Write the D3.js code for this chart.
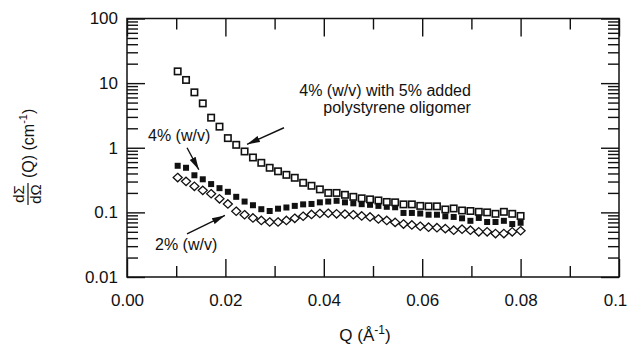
<!DOCTYPE html>
<html><head><meta charset="utf-8">
<script src="https://cdn.jsdelivr.net/npm/d3@7"></script>
<style>
body{margin:0;background:#fff}
text{font-family:"Liberation Sans",Arial,Helvetica,sans-serif;fill:#111}
</style>
</head><body><svg id="c" width="628" height="345"></svg>
<script>
// ---- data ----
const q = [0.0103,0.0120,0.0137,0.0154,0.0171,0.0188,0.0205,0.0222,0.0239,0.0256,0.0273,0.0290,0.0307,0.0324,0.0341,0.0358,0.0375,0.0392,0.0409,0.0426,0.0443,0.0460,0.0477,0.0494,0.0511,0.0528,0.0545,0.0562,0.0579,0.0596,0.0613,0.0630,0.0647,0.0664,0.0681,0.0698,0.0715,0.0732,0.0749,0.0766,0.0783,0.0800];
const oligomer = [15.2,11.2,7.2,4.86,2.92,2.12,1.41,1.11,0.876,0.707,0.585,0.49,0.432,0.381,0.343,0.287,0.258,0.227,0.2,0.2,0.187,0.174,0.165,0.159,0.153,0.145,0.143,0.133,0.133,0.126,0.124,0.124,0.111,0.115,0.107,0.105,0.102,0.1,0.095,0.102,0.095,0.088];
const pct4 = [0.526,0.49,0.375,0.325,0.274,0.237,0.208,0.174,0.147,0.129,0.112,0.105,0.114,0.119,0.126,0.133,0.135,0.143,0.147,0.151,0.143,0.138,0.134,0.131,0.126,0.122,0.12,0.098,0.098,0.096,0.092,0.092,0.087,0.085,0.081,0.074,0.082,0.071,0.071,0.074,0.066,0.069];
const pct2 = [0.346,0.302,0.253,0.219,0.194,0.162,0.135,0.104,0.092,0.082,0.075,0.071,0.071,0.075,0.081,0.087,0.093,0.096,0.097,0.095,0.094,0.092,0.088,0.085,0.079,0.075,0.07,0.066,0.064,0.061,0.059,0.058,0.056,0.053,0.055,0.053,0.05,0.05,0.047,0.047,0.05,0.052];
const xMajorTicks = [0,0.02,0.04,0.06,0.08,0.1];
const xTickLabels = ["0.00","0.02","0.04","0.06","0.08","0.1"];
const xMinorTicks = [0.01,0.03,0.05,0.07,0.09];
const yMajorTicks = [0.01,0.1,1,10,100];
const yTickLabels = ["0.01","0.1","1","10","100"];
const annotations = [
  {lines:["4% (w/v) with 5% added","polystyrene oligomer"], q:0.0699, v:6.4, anchor:"end"},
  {lines:["4% (w/v)"], q:0.00427, v:1.28, anchor:"start"},
  {lines:["2% (w/v)"], q:0.0057, v:0.0262, anchor:"start"}
];
const arrows = [
  {from:[0.0319,2.04], to:[0.0244,1.13]},
  {from:[0.0122,1.0], to:[0.0146,0.456]},
  {from:[0.0122,0.0464], to:[0.0199,0.0898]}
];

// ---- layout ----
const L=127, R=619, T=18.5, B=277;
const svg = d3.select("#c");
const x = d3.scaleLinear().domain([0,0.1]).range([L,R]);
const y = d3.scaleLog().domain([0.01,100]).range([B,T]);
const ink = "#111";

const yMinor = [];
[0.01,0.1,1,10].forEach(d=>{for(let k=2;k<=9;k++) yMinor.push(d*k);});

function styleAxis(g){
  g.select(".domain").remove();
  g.selectAll(".tick line").attr("stroke",ink).attr("stroke-width",1.4);
  g.selectAll(".tick text").style("font-size","17px").attr("fill",ink);
}
// bottom
const bx = svg.append("g").attr("transform",`translate(0,${B})`)
  .call(d3.axisBottom(x).tickValues(xMajorTicks).tickSize(-18).tickPadding(17)
    .tickFormat((d,i)=>xTickLabels[i])).call(styleAxis);
bx.selectAll(".tick text").filter(d=>d===0.1).attr("dx",-4);
svg.append("g").attr("transform",`translate(0,${B})`)
  .call(d3.axisBottom(x).tickValues(xMinorTicks).tickSize(-11).tickFormat("")).call(styleAxis);
// top
svg.append("g").attr("transform",`translate(0,${T})`)
  .call(d3.axisTop(x).tickValues(xMajorTicks).tickSize(-18).tickFormat("")).call(styleAxis);
svg.append("g").attr("transform",`translate(0,${T})`)
  .call(d3.axisTop(x).tickValues(xMinorTicks).tickSize(-11).tickFormat("")).call(styleAxis);
// left
svg.append("g").attr("transform",`translate(${L},0)`)
  .call(d3.axisLeft(y).tickValues(yMajorTicks).tickSize(-18).tickPadding(9)
    .tickFormat((d,i)=>yTickLabels[i])).call(styleAxis);
svg.append("g").attr("transform",`translate(${L},0)`)
  .call(d3.axisLeft(y).tickValues(yMinor).tickSize(-11).tickFormat("")).call(styleAxis);
// right
svg.append("g").attr("transform",`translate(${R},0)`)
  .call(d3.axisRight(y).tickValues(yMajorTicks).tickSize(-18).tickFormat("")).call(styleAxis);
svg.append("g").attr("transform",`translate(${R},0)`)
  .call(d3.axisRight(y).tickValues(yMinor).tickSize(-11).tickFormat("")).call(styleAxis);

// frame
svg.append("rect").attr("x",L).attr("y",T).attr("width",R-L).attr("height",B-T)
  .attr("fill","none").attr("stroke",ink).attr("stroke-width",1.5);

// ---- markers ----
const pts = (vals)=>q.map((d,i)=>({q:d,v:vals[i]}));
// diamonds (2%)
svg.append("g").selectAll("path").data(pts(pct2)).join("path")
  .attr("transform",d=>`translate(${x(d.q)},${y(d.v)})`)
  .attr("d","M0,-4.2L4.5,0L0,4.2L-4.5,0Z")
  .attr("fill","#fff").attr("stroke",ink).attr("stroke-width",1.3);
// filled squares (4%)
svg.append("g").selectAll("rect").data(pts(pct4)).join("rect")
  .attr("x",d=>x(d.q)-3).attr("y",d=>y(d.v)-3).attr("width",6).attr("height",6)
  .attr("fill",ink);
// open squares (oligomer)
svg.append("g").selectAll("rect").data(pts(oligomer)).join("rect")
  .attr("x",d=>x(d.q)-3.2).attr("y",d=>y(d.v)-3.2).attr("width",6.4).attr("height",6.4)
  .attr("fill","#fff").attr("stroke",ink).attr("stroke-width",1.6);

// ---- annotations ----
const defs = svg.append("defs");
defs.append("marker").attr("id","ah").attr("viewBox","-13 -4 13 8")
  .attr("refX",0).attr("refY",0).attr("markerWidth",13).attr("markerHeight",8)
  .attr("markerUnits","userSpaceOnUse").attr("orient","auto")
  .append("path").attr("d","M-13,-3.3L0,0L-13,3.3Z").attr("fill",ink);
svg.append("g").selectAll("line").data(arrows).join("line")
  .attr("x1",d=>x(d.from[0])).attr("y1",d=>y(d.from[1]))
  .attr("x2",d=>x(d.to[0])).attr("y2",d=>y(d.to[1]))
  .attr("stroke",ink).attr("stroke-width",1.4).attr("marker-end","url(#ah)");
annotations.forEach(a=>{
  const t = svg.append("text").attr("text-anchor",a.anchor).style("font-size","16px")
    .attr("x",x(a.q)).attr("y",y(a.v));
  a.lines.forEach((s,i)=>t.append("tspan").attr("x",x(a.q)).attr("dy",i?17:0).text(s));
});

// ---- axis titles ----
const xt = svg.append("text").attr("x",365).attr("y",341).attr("text-anchor","middle").style("font-size","17px");
xt.append("tspan").text("Q (Å");
xt.append("tspan").attr("dy",-7).style("font-size","12px").text("-1");
xt.append("tspan").attr("dy",7).text(")");

const yl = svg.append("g").attr("transform","translate(28,205) rotate(-90)");
yl.append("text").attr("x",11).attr("y",-4).attr("text-anchor","middle").style("font-size","15px").text("dΣ");
yl.append("text").attr("x",11).attr("y",13).attr("text-anchor","middle").style("font-size","15px").text("dΩ");
yl.append("line").attr("x1",0).attr("x2",22).attr("y1",0).attr("y2",0).attr("stroke",ink).attr("stroke-width",1.2);
const yt = yl.append("text").attr("x",27).attr("y",6).style("font-size","16px");
yt.append("tspan").text("(Q) (cm");
yt.append("tspan").attr("dy",-7).style("font-size","11px").text("-1");
yt.append("tspan").attr("dy",7).text(")");
</script>
</body></html>
